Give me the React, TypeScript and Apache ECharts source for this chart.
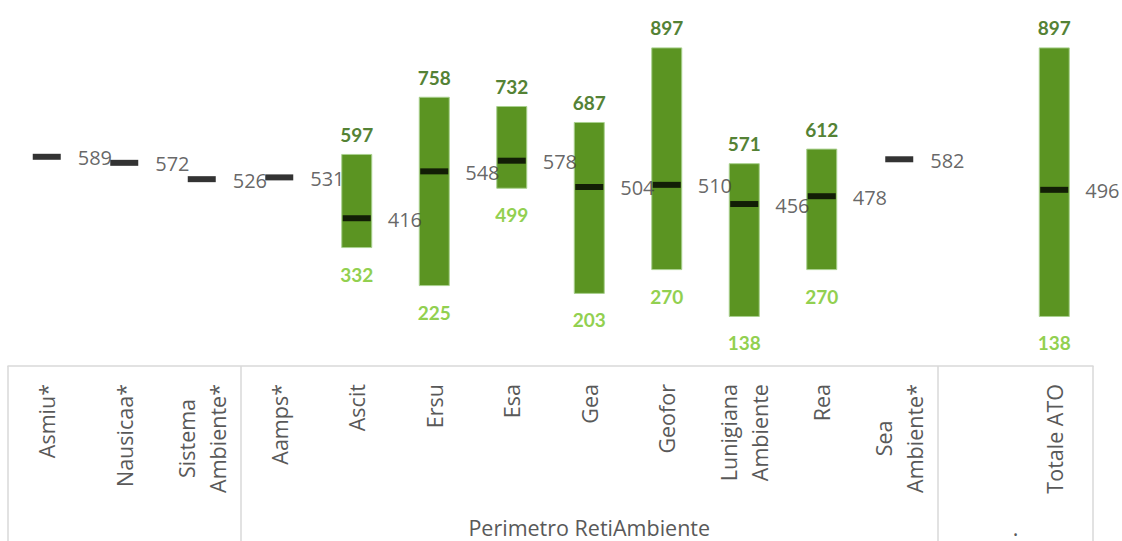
import React, { useEffect, useRef } from "react";
import * as echarts from "echarts";

// ---- data ----
const categories = [
  "Asmiu*",
  "Nausicaa*",
  "Sistema\nAmbiente*",
  "Aamps*",
  "Ascit",
  "Ersu",
  "Esa",
  "Gea",
  "Geofor",
  "Lunigiana\nAmbiente",
  "Rea",
  "Sea\nAmbiente*",
  "",
  "Totale ATO",
];
const meanValues = [589, 572, 526, 531, 416, 548, 578, 504, 510, 456, 478, 582, null, 496];
const minValues = [null, null, null, null, 332, 225, 499, 203, 270, 138, 270, null, null, 138];
const maxValues = [null, null, null, null, 597, 758, 732, 687, 897, 571, 612, null, null, 897];
const groupLabels = ["", "Perimetro RetiAmbiente", "."];
const groupStarts = [0, 3, 12];
const groupEnds = [2, 11, 13];

const CAT_FONT = "Open Sans";
const CAT_SIZE = 21.5;
const CAT_COLOR = "#595959";
const CAT_LINE_HEIGHT = 31;
const LABEL_MARGIN = 18;

function measureWidth(text: string, font: string): number {
  const c = document.createElement("canvas");
  const ctx = c.getContext("2d");
  if (!ctx) return text.length * 11;
  ctx.font = font;
  return ctx.measureText(text).width;
}

export default function App() {
  const ref = useRef<HTMLDivElement>(null);

  useEffect(() => {
    if (!ref.current) return;
    const chart = echarts.init(ref.current, undefined, { renderer: "svg" });

    const baseData = minValues.map((v) => (v == null ? "-" : v));
    const rangeData = minValues.map((v, i) =>
      v == null || maxValues[i] == null ? "-" : (maxValues[i] as number) - v
    );
    const meanData = meanValues.map((v) => (v == null ? "-" : v));

    const option: any = {
      animation: false,
      backgroundColor: "#ffffff",
      grid: { left: 8, right: 29, top: 10.8, bottom: 175, containLabel: false },
      xAxis: {
        type: "category",
        data: categories,
        boundaryGap: true,
        axisLine: { show: true, lineStyle: { color: "#d9d9d9", width: 1.5 } },
        axisTick: {
          show: true,
          length: 175,
          interval: (index: number) => groupStarts.indexOf(index) >= 0,
          lineStyle: { color: "#d9d9d9", width: 1.5 },
        },
        axisLabel: { show: false },
        splitLine: { show: false },
      },
      yAxis: {
        type: "value",
        min: 0,
        max: 1000,
        show: false,
        splitLine: { show: false },
      },
      series: [
        {
          name: "base",
          type: "bar",
          stack: "range",
          barWidth: 31,
          data: baseData,
          itemStyle: { color: "transparent" },
          label: {
            show: true,
            position: "insideTop",
            distance: 16.5,
            fontFamily: "Lato",
            fontWeight: "bold",
            fontSize: 19,
            color: "#92d050",
            formatter: (p: any) => String(minValues[p.dataIndex]),
          },
          z: 2,
        },
        {
          name: "range",
          type: "bar",
          stack: "range",
          barWidth: 31,
          data: rangeData,
          itemStyle: { color: "#5b9422", borderColor: "#a9d08e", borderWidth: 1 },
          label: {
            show: true,
            position: "top",
            distance: 10,
            fontFamily: "Lato",
            fontWeight: "bold",
            fontSize: 19,
            color: "#548235",
            formatter: (p: any) => String(maxValues[p.dataIndex]),
          },
          z: 2,
        },
        {
          name: "mean",
          type: "scatter",
          data: meanData,
          symbol: "rect",
          symbolSize: [28, 6],
          itemStyle: { color: "#000000" },
          label: {
            show: true,
            position: "right",
            distance: 17,
            offset: [0, 1],
            fontFamily: CAT_FONT,
            fontSize: 20,
            color: "#404040",
            formatter: (p: any) => String(meanValues[p.dataIndex]),
          },
          z: 5,
        },
      ],
    };

    chart.setOption(option);

    const axisY = chart.convertToPixel({ yAxisIndex: 0 }, 0) as number;
    const font = `${CAT_SIZE}px "${CAT_FONT}"`;
    const graphics: any[] = [];

    // category labels: rotated, block top-aligned under the axis, each line centered
    categories.forEach((cat, i) => {
      if (!cat) return;
      const cx = chart.convertToPixel({ xAxisIndex: 0 }, i) as number;
      const lines = cat.split("\n");
      const maxW = Math.max(...lines.map((s) => measureWidth(s, font)));
      lines.forEach((line, li) => {
        graphics.push({
          type: "text",
          x: cx + (li - (lines.length - 1) / 2) * CAT_LINE_HEIGHT,
          y: axisY + LABEL_MARGIN + maxW / 2,
          rotation: Math.PI / 2,
          style: {
            text: line,
            fontFamily: CAT_FONT,
            fontSize: CAT_SIZE,
            fill: CAT_COLOR,
            align: "center",
            verticalAlign: "middle",
          },
          z: 10,
        });
      });
    });

    // group labels
    groupLabels.forEach((label, gi) => {
      if (!label) return;
      const x0 = chart.convertToPixel({ xAxisIndex: 0 }, groupStarts[gi]) as number;
      const x1 = chart.convertToPixel({ xAxisIndex: 0 }, groupEnds[gi]) as number;
      graphics.push({
        type: "text",
        x: (x0 + x1) / 2,
        y: 527,
        style: {
          text: label,
          fontFamily: CAT_FONT,
          fontSize: CAT_SIZE,
          fill: CAT_COLOR,
          align: "center",
          verticalAlign: "middle",
        },
        z: 10,
      });
    });
    chart.setOption({ graphic: graphics });

    return () => chart.dispose();
  }, []);

  return (
    <div
      ref={ref}
      style={{ position: "fixed", left: 0, top: 0, width: 1122, height: 541, background: "#fff" }}
    />
  );
}
